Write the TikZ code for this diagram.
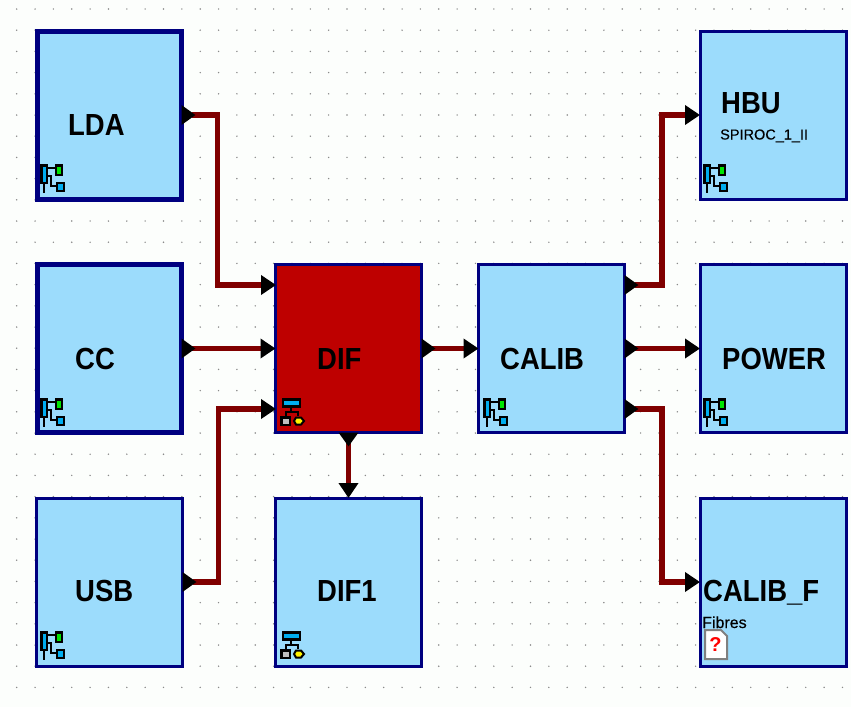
\documentclass[tikz,border=0pt]{standalone}
\usepackage{fontspec}
\usepackage{tikz}
\setmainfont{Liberation Sans}
\newfontfamily\blockfont[FakeStretch=0.9]{Liberation Sans}
\newfontfamily\notefont[FakeBold=0.4]{Liberation Sans}
\definecolor{blockblue}{HTML}{9CDCFC}
\definecolor{blockred}{HTML}{BE0000}
\definecolor{navy500}{HTML}{000080}
\definecolor{wire500}{HTML}{800000}
\definecolor{sheet}{HTML}{FCFEFC}
\definecolor{griddot}{HTML}{8A8A8A}
\usetikzlibrary{arrows.meta}
\tikzstyle{block}=[rectangle, draw=navy500, fill=blockblue, line width=3pt, outer sep=0pt, minimum width=146pt, minimum height=168pt]
\tikzstyle{topblock}=[block, line width=5pt, minimum width=144pt]
\tikzstyle{mainblock}=[block, fill=blockred]
\tikzstyle{title}=[anchor=base west, inner sep=0pt, font=\blockfont\bfseries\fontsize{30.5}{30.5}\selectfont]
\tikzstyle{subtitle}=[anchor=base west, inner sep=0pt, font=\notefont\fontsize{14.5}{14.5}\selectfont]
\tikzstyle{wire}=[draw=wire500, line width=5.5pt, {Triangle[reversed,length=14pt,width=19pt,black]}-{Triangle[length=15pt,width=19pt,black]}]
\tikzset{
	pics/leaficon/.style={code={
		\draw[black, line width=1.2pt] (4,19) -- (4,29) (7,4) -- (15,4) (4,12) -- (11,12) -- (11,22) -- (16,22);
		\draw[black, line width=2.5pt, fill=cyan] (1.5,1.5) rectangle (7,19);
		\draw[black, line width=2.5pt, fill=green!90!black] (16,1.5) rectangle (22,11);
		\draw[black, line width=2.5pt, fill=cyan] (17,19) rectangle (24,27);
	}},
	pics/sysicon/.style={code={
		\draw[black, line width=1.2pt] (11,9) -- (11,14) (6,18) -- (6,14) -- (18,14) -- (18,18);
		\draw[black, line width=2.5pt, fill=cyan] (3,1.5) rectangle (20,8.5);
		\draw[black, line width=2.5pt, fill=gray!50] (1.5,19.5) rectangle (10,27);
		\draw[black, line width=2pt, fill=yellow] (14,23) -- (16,19.5) -- (21,19.5) -- (24,23) -- (21,26.5) -- (16,26.5) -- cycle;
	}}
}

\begin{document}
\begin{tikzpicture}[x=1pt, y=-1pt]
	\useasboundingbox (0,0) rectangle (851,707);
	\fill[sheet] (0,0) rectangle (851,707);
	% raster
	\foreach \i in {0,...,45}
		\foreach \j in {0,...,32}
			\fill[griddot] ({16.7+18.35*\i},{9+21.2*\j}) circle (0.8pt);

	\node[topblock] (lda) at (109.5,115) {};
	\node[topblock] (cc) at (109.5,348.5) {};
	\node[block] (usb) at (109.5,582) {};
	\node[mainblock] (dif) at (348.5,348.5) {};
	\node[block] (dif1) at (348.5,582) {};
	\node[block] (calib) at (551.5,348.5) {};
	\node[block] (hbu) at (773,115) {};
	\node[block] (power) at (773,348.5) {};
	\node[block] (calibf) at (773,582) {};

	\node[title] (ldatext) at (68,135.5) {LDA};
	\node[title] (cctext) at (75,369) {CC};
	\node[title] (usbtext) at (75,601.5) {USB};
	\node[title] (diftext) at (317,369) {DIF};
	\node[title] (dif1text) at (317,601.5) {DIF1};
	\node[title] (calibtext) at (500,369) {CALIB};
	\node[title] (hbutext) at (721,113) {HBU};
	\node[subtitle] (hbusub) at (720,139.5) {SPIROC\_1\_II};
	\node[title] (powertext) at (722,369) {POWER};
	\node[title] (calibftext) at (703,601.5) {CALIB\_F};
	\node[subtitle, font=\notefont\fontsize{16}{16}\selectfont] (fibres) at (702,628) {Fibres};

	\pic at (40,164) {leaficon};
	\pic at (40,398) {leaficon};
	\pic at (40,631) {leaficon};
	\pic at (483,398) {leaficon};
	\pic at (703,164) {leaficon};
	\pic at (703,398) {leaficon};
	\pic at (280,398) {sysicon};
	\pic at (280,631) {sysicon};

	% missing file mark
	\draw[gray, line width=2pt, fill=white] (705,630) -- (721,630) -- (727,636) -- (727,659) -- (705,659) -- cycle;
	\node[inner sep=0pt, text=red, font=\bfseries\fontsize{20}{20}\selectfont] (unknown) at (715.5,645) {?};

	\coordinate (difa) at (276,285);
	\coordinate (difb) at (276,409);
	\coordinate (calibo) at (624.5,285);
	\coordinate (calibp) at (624.5,409);

	\path[wire] (lda.east) -- ++(36,0) |- (difa);
	\path[wire] (cc.east) -- (dif.west);
	\path[wire] (usb.east) -- ++(36,0) |- (difb);
	\path[wire] (dif.east) -- (calib.west);
	\path[wire] (dif.south) -- (dif1.north);
	\path[wire] (calibo) -- ++(37.5,0) |- (hbu.west);
	\path[wire] (calib.east) -- (power.west);
	\path[wire] (calibp) -- ++(37.5,0) |- (calibf.west);
\end{tikzpicture}
\end{document}
